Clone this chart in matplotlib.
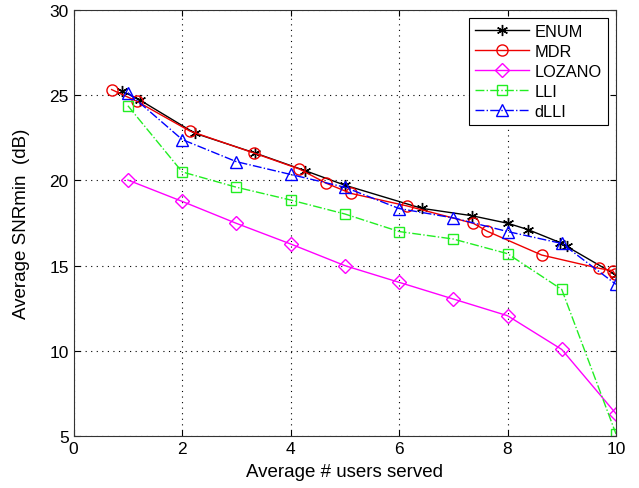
import matplotlib
matplotlib.use("Agg")
import matplotlib.pyplot as plt

plt.rcParams['font.family'] = ['Liberation Sans', 'DejaVu Sans']

enum_x = [0.89, 1.23, 2.24, 3.35, 4.27, 5.0, 6.42, 7.34, 8.01, 8.38, 8.97, 9.09, 10.0]
enum_y = [25.25, 24.7, 22.76, 21.6, 20.57, 19.72, 18.36, 17.93, 17.48, 17.11, 16.35, 16.13, 14.45]

mdr_x = [0.70, 1.16, 2.14, 3.33, 4.16, 4.66, 5.11, 6.15, 7.37, 7.63, 8.63, 9.69, 9.94, 9.98]
mdr_y = [25.33, 24.65, 22.9, 21.6, 20.67, 19.83, 19.24, 18.5, 17.48, 17.01, 15.62, 14.84, 14.7, 14.5]

loz_x = [1, 2, 3, 4, 5, 6, 7, 8, 9, 10]
loz_y = [20.02, 18.77, 17.48, 16.27, 15.0, 14.02, 13.04, 12.06, 10.08, 6.31]

lli_x = [1, 2, 3, 4, 5, 6, 7, 8, 9, 10]
lli_y = [24.38, 20.5, 19.6, 18.85, 18.03, 17.0, 16.56, 15.7, 13.6, 5.12]

dlli_x = [1, 2, 3, 4, 5, 6, 7, 8, 9, 10]
dlli_y = [25.15, 22.4, 21.1, 20.35, 19.6, 18.35, 17.8, 17.0, 16.3, 13.9]

xticks = [0, 2, 4, 6, 8, 10]
yticks = [5, 10, 15, 20, 25, 30]

fig = plt.figure(figsize=(6.39, 4.89), dpi=100)
ax = fig.add_axes([0.1153, 0.1063, 0.8487, 0.8712])

ms = 8
ax.plot(enum_x, enum_y, color='black', linestyle='-', marker=(6, 2, 0), markersize=ms,
        lw=1.0, label='ENUM', markeredgewidth=1.0)
ax.plot(mdr_x, mdr_y, color='#ee0000', linestyle='-', marker='o', markersize=ms,
        fillstyle='none', lw=1.0, label='MDR')
ax.plot(loz_x, loz_y, color='#ff00ff', linestyle='-', marker='D', markersize=ms - 1,
        fillstyle='none', lw=1.0, label='LOZANO')
ax.plot(lli_x, lli_y, color='#22ee22', linestyle='-.', marker='s', markersize=ms - 1,
        fillstyle='none', lw=1.0, label='LLI')
ax.plot(dlli_x, dlli_y, color='#0000ff', linestyle='-.', marker='^', markersize=ms,
        fillstyle='none', lw=1.0, label='dLLI')

ax.set_xlim(0, 10)
ax.set_ylim(5, 30)
ax.set_xticks(xticks)
ax.set_yticks(yticks)
ax.tick_params(direction='in', top=True, right=True, labelsize=12.5, length=4)
ax.grid(True, linestyle=(0, (1, 4)), color='black', linewidth=0.8)
for s in ax.spines.values():
    s.set_linewidth(0.8)
    s.set_color('#333333')

ax.set_xlabel('Average # users served', fontsize=13.5, labelpad=5)
ax.set_ylabel('Average SNRmin  (dB)', fontsize=13.5, labelpad=14)

leg = ax.legend(loc='upper right', fontsize=11.8, fancybox=False, edgecolor='black',
                framealpha=1, borderpad=0.4, labelspacing=0.3, handlelength=3.3,
                handletextpad=0.3, borderaxespad=0, bbox_to_anchor=(0.985, 0.982))
leg.get_frame().set_linewidth(0.8)

fig.savefig('out.png', dpi=100)
